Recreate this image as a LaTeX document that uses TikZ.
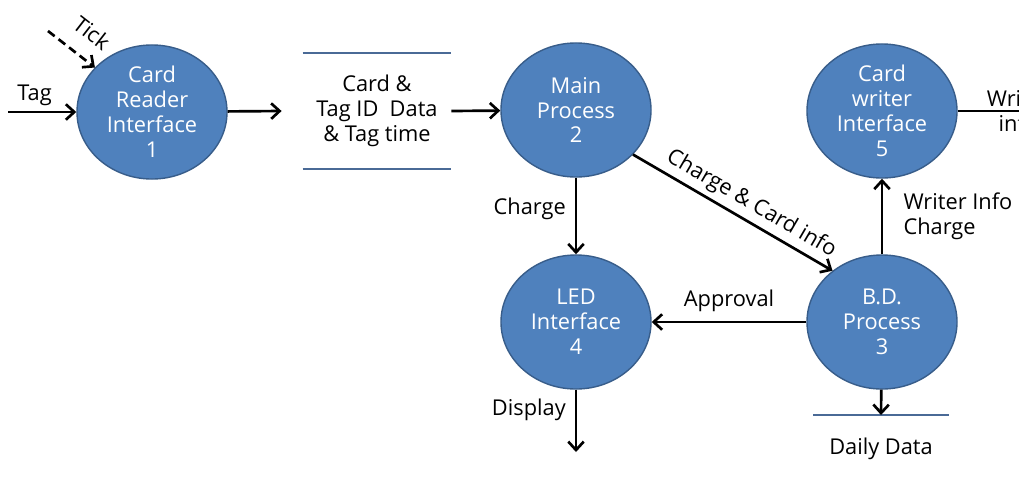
\documentclass[tikz,border=0pt]{standalone}
\usepackage{fontspec}
\setmainfont{Open Sans}
\usetikzlibrary{positioning,shapes.geometric,arrows.meta}
\definecolor{procblue}{HTML}{4F81BD}
\definecolor{procedge}{HTML}{385D8A}
\definecolor{storeblue}{HTML}{4A6A96}

\begin{document}
\begin{tikzpicture}[x=0.025cm, y=-0.025cm, node distance=0.5cm,
    proc/.style={ellipse, draw=procedge, line width=1pt, fill=procblue,
      text=white, minimum width=3.75cm, minimum height=3.35cm, inner sep=0pt,
      align=center, font=\fontsize{15.5}{17.7}\selectfont},
    flow/.style={-{Straight Barb[length=6pt,width=11pt]}, line width=1.9pt},
    lbl/.style={font=\fontsize{15.5}{17.7}\selectfont, align=left},
    storeline/.style={draw=storeblue, line width=1.2pt}]
    \useasboundingbox (0,0) rectangle (1019,482);

    % processes
    \node[proc] (reader) at (152,112) {Card\\Reader\\Interface\\1};
    \node[proc] (main)   at (576,110) {Main\\Process\\2};
    \node[proc] (writer) at (882,111) {Card\\writer\\Interface\\5};
    \node[proc] (led)    at (576,322) {LED\\Interface\\4};
    \node[proc] (bd)     at (882,322) {B.D.\\Process\\3};

    % data stores
    \node[lbl, align=center, minimum width=3.7cm, minimum height=2.9cm, inner sep=0pt]
      (cardstore) at (377,111) {Card \&\\Tag ID\ \ Data\\\& Tag time};
    \draw[storeline] (cardstore.north west) -- (cardstore.north east);
    \draw[storeline] (cardstore.south west) -- (cardstore.south east);
    \node[lbl, minimum width=3.375cm, minimum height=1.7cm, inner sep=0pt, anchor=north]
      (daily) at (881,415) {Daily Data};
    \draw[storeline] (daily.north west) -- (daily.north east);

    % free ends
    \coordinate (tagin) at (8,112);
    \coordinate (tickin) at (48,31);
    \coordinate (writerout) at (1070,111);
    \coordinate (displayout) at (576,452);

    \draw[flow] (tagin) -- node[lbl, above, pos=0.39] {Tag} (reader);
    \draw[flow, dash pattern=on 6pt off 3.5pt] (tickin) -- node[lbl, sloped, above, pos=0.6, yshift=8pt] {Tick} (reader);
    \draw[flow] (reader) -- ([xshift=-15pt]cardstore.west);
    \draw[flow] (cardstore.east) -- (main);
    \draw[flow] (main) -- node[lbl, left, pos=0.4, xshift=-3pt] {Charge} (led);
    \draw[flow] (main.-38) -- node[lbl, sloped, above, pos=0.55] {Charge \& Card info} (bd.134);
    \draw[flow] (bd) -- node[lbl, above, yshift=3pt] {Approval} (led);
    \draw[flow] (bd) -- node[lbl, right, xshift=11pt] {Writer Info\\Charge} (writer);
    \draw[flow] (writer) -- node[lbl, align=center, pos=0.54] {Writer\\info} (writerout);
    \draw[flow] (bd) -- (daily.north);
    \draw[flow] (led) -- node[lbl, left, pos=0.32, xshift=-3pt] {Display} (displayout);
\end{tikzpicture}
\end{document}
